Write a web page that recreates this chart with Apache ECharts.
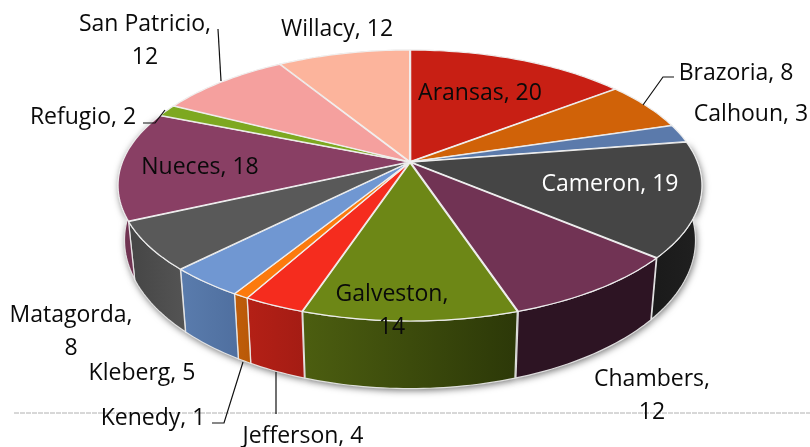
<!DOCTYPE html>
<html>
<head>
<meta charset="utf-8">
<style>html,body{margin:0;padding:0;background:#fff}#c{width:810px;height:447px}</style>
<script src="https://cdn.jsdelivr.net/npm/echarts@6/dist/echarts.min.js"></script>
</head>
<body>
<div id="c"></div>
<script>
// ---- data ----
const categories = ['Aransas','Brazoria','Calhoun','Cameron','Chambers','Galveston','Jefferson','Kenedy','Kleberg','Matagorda','Nueces','Refugio','San Patricio','Willacy'];
const values = [20,8,3,19,12,14,4,1,5,8,18,2,12,12];

// ---- styles ----
const topColors = ['#c81f14','#d06208','#5b7aab','#454545','#713354','#6d8716','#f52c1e','#fc7a0d','#7097d2','#595959','#893f64','#7da820','#f5a09e','#fcb49c'];
const wallStart = ['#8a150e','#8f4406','#3f5476','#1a1a1a','#2d1423','#4c5e10','#b42016','#c05e0a','#5a7cad','#454545','#6d3250','#56751a','#b57472','#b57f6e'];
const wallEnd   = ['#8a150e','#8f4406','#3f5476','#202020','#2d1423','#2c3808','#a41c14','#b85808','#4f6f9f','#545454','#7a3858','#56751a','#b57472','#b57f6e'];

// ---- layout: label anchor, colour, leader line ----
const labelLayout = [
  {x:480,y:93},
  {x:736,y:73,line:[[643,105],[663,77],[674,77]]},
  {x:751,y:114},
  {x:610,y:184,fill:'#fff'},
  {x:652,y:396,text:'Chambers,\n12'},
  {x:392,y:311,text:'Galveston,\n14'},
  {x:303,y:436,line:[[276,372],[276,414]]},
  {x:153,y:418,line:[[243,362],[224,423],[212,423]]},
  {x:142,y:373},
  {x:71,y:332,text:'Matagorda,\n8'},
  {x:200,y:167},
  {x:83,y:117,line:[[165,110],[155,123],[143,123]]},
  {x:145,y:41,text:'San Patricio,\n12',line:[[218,29],[221,81]]},
  {x:337,y:29}
];
const FONT = '23px "Open Sans", sans-serif';
const LINE_H = 33;

// ---- tilted-disc projection ----
const CX = 410, CY = 162;
const A = 287.5, S = 131.4, P = 0.1736;   // radius, foreshortening, perspective
const BOTTOM_X = 0.978, BOTTOM_Y = 1.095, BOTTOM_D = 52.5;
const EXPLODE = 0.006;
const total = values.reduce((a, b) => a + b, 0);

function angles(i) {
  let s = 0;
  for (let k = 0; k < i; k++) s += values[k];
  return [s / total * 2 * Math.PI, (s + values[i]) / total * 2 * Math.PI];
}
function project(X, Y) {
  const d = 1 - P * Y;
  return [A * X / d, S * Y / d];
}
function topPt(X, Y) { const p = project(X, Y); return [CX + p[0], CY + p[1]]; }
function botPt(X, Y) { const p = project(X, Y); return [CX + p[0] * BOTTOM_X, CY + p[1] * BOTTOM_Y + BOTTOM_D]; }

function arc(i, fn) {
  const [a0, a1] = angles(i);
  const mid = (a0 + a1) / 2;
  const ex = EXPLODE * Math.sin(mid), ey = -EXPLODE * Math.cos(mid);
  const n = Math.max(4, Math.ceil((a1 - a0) / 0.02));
  const pts = [];
  for (let k = 0; k <= n; k++) {
    const t = a0 + (a1 - a0) * k / n;
    pts.push(fn(ex + (1 - EXPLODE) * Math.sin(t), ey - (1 - EXPLODE) * Math.cos(t)));
  }
  return {pts, center: fn(ex, ey)};
}
function wallPoints(i) {
  return arc(i, topPt).pts.concat(arc(i, botPt).pts.reverse());
}
function isFront(i) {
  const [a0, a1] = angles(i);
  return a1 > Math.PI / 2 && a0 < Math.PI * 1.5;
}
function wallFill(i) {
  return new echarts.graphic.LinearGradient(0, 0, 1, 0, [
    {offset: 0, color: wallStart[i]},
    {offset: 1, color: wallEnd[i]}
  ]);
}

function renderShadow(params) {
  if (!isFront(params.dataIndex)) return null;
  return {type: 'polygon', silent: true, shape: {points: wallPoints(params.dataIndex)},
    style: {fill: '#888', shadowColor: 'rgba(0,0,0,0.55)', shadowBlur: 7, shadowOffsetX: 1, shadowOffsetY: 2}};
}
function renderWall(params) {
  const i = params.dataIndex;
  return {type: 'polygon', silent: true, shape: {points: wallPoints(i)},
    style: {fill: wallFill(i), stroke: 'rgba(235,235,235,0.9)', lineWidth: 1.2}};
}
function renderTop(params) {
  const i = params.dataIndex;
  const a = arc(i, topPt);
  return {type: 'polygon', silent: true, shape: {points: [a.center].concat(a.pts)},
    style: {fill: topColors[i], stroke: 'rgba(240,240,240,0.95)', lineWidth: 1.2, lineJoin: 'miter'}};
}
function renderLabel(params) {
  const i = params.dataIndex, l = labelLayout[i];
  const children = [{type: 'text', silent: true, x: l.x, y: l.y,
    style: {text: l.text || (categories[i] + ', ' + values[i]), font: FONT, fill: l.fill || '#0a0a0a',
      align: 'center', verticalAlign: 'middle', lineHeight: LINE_H}}];
  if (l.line) children.unshift({type: 'polyline', silent: true, shape: {points: l.line},
    style: {fill: 'none', stroke: '#111', lineWidth: 1.2}});
  return {type: 'group', children};
}
function layer(id, z, fn) {
  return {id, type: 'custom', coordinateSystem: 'none', z, animation: false, silent: true,
    renderItem: fn, data: values.map((v, i) => ({name: categories[i], value: v}))};
}

const chart = echarts.init(document.getElementById('c'), null, {renderer: 'canvas', width: 810, height: 447});
chart.setOption({
  backgroundColor: '#fff',
  animation: false,
  graphic: [{type: 'line', z: 1, silent: true,
    shape: {x1: 14, y1: 413, x2: 810, y2: 413},
    style: {stroke: '#b0b0b0', lineWidth: 1, lineDash: [5, 1]}}],
  series: [
    layer('shadow', 2, renderShadow),
    layer('walls', 3, renderWall),
    layer('tops', 4, renderTop),
    layer('labels', 5, renderLabel)
  ]
});
</script>
</body>
</html>
